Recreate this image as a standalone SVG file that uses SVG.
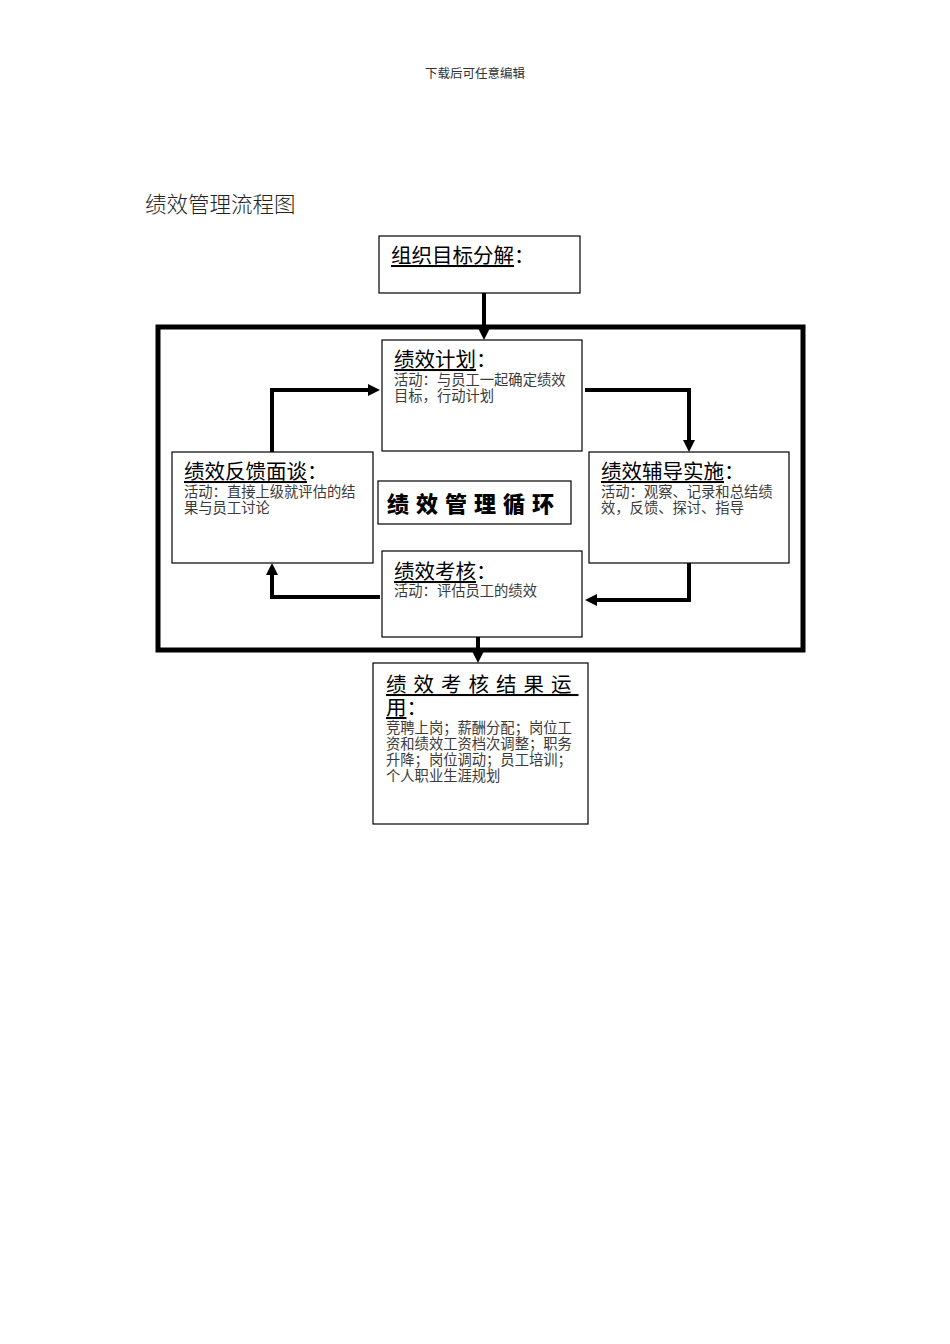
<svg xmlns="http://www.w3.org/2000/svg" width="950" height="1344" viewBox="0 0 950 1344">
<style>
.box{fill:#fff;stroke:#000;stroke-width:1.2}
.t{font-family:"Noto Sans CJK SC",sans-serif;font-size:20.5px;fill:#000}
.d{font-family:"Noto Sans CJK SC",sans-serif;font-size:14.3px;fill:#3a3a3a}
.u{text-decoration:underline}
.c{fill:none;stroke:#000;stroke-width:4}
</style>
<defs>
<marker id="ah" markerUnits="userSpaceOnUse" markerWidth="13" markerHeight="13" refX="1" refY="6" orient="auto">
<path d="M0,0 L12,6 L0,12 z" fill="#000"/>
</marker>
</defs>
<rect width="950" height="1344" fill="#fff"/>
<text x="475" y="78" text-anchor="middle" font-family="Noto Sans CJK SC,sans-serif" font-size="12.5" fill="#333">下载后可任意编辑</text>
<text x="145" y="212" font-family="Noto Sans CJK SC,sans-serif" font-size="21.5" font-weight="300" fill="#222">绩效管理流程图</text>

<g id="frame"><rect x="158" y="327" width="645" height="323" fill="none" stroke="#000" stroke-width="5"/></g>

<g id="connectors">
<path class="c" d="M484,293 L484,329" marker-end="url(#ah)"/>
<path class="c" d="M585,390 L689,390 L689,441" marker-end="url(#ah)"/>
<path class="c" d="M689,563 L689,600 L596,600" marker-end="url(#ah)"/>
<path class="c" d="M380,597 L272,597 L272,574" marker-end="url(#ah)"/>
<path class="c" d="M272,452 L272,390 L369,390" marker-end="url(#ah)"/>
<path class="c" d="M478,637 L478,652" marker-end="url(#ah)"/>
</g>

<g id="n-goal">
<rect class="box" x="379" y="236" width="201" height="57"/>
<text class="t" x="391" y="263"><tspan class="u">组织目标分解</tspan>：</text>
</g>

<g id="n-plan">
<rect class="box" x="382" y="340" width="200" height="111"/>
<text class="t" x="394" y="367"><tspan class="u">绩效计划</tspan>：</text>
<text class="d" x="394" y="385">活动：与员工一起确定绩效</text>
<text class="d" x="394" y="401">目标，行动计划</text>
</g>

<g id="n-feedback">
<rect class="box" x="172" y="452" width="201" height="111"/>
<text class="t" x="184" y="479"><tspan class="u">绩效反馈面谈</tspan>：</text>
<text class="d" x="184" y="497">活动：直接上级就评估的结</text>
<text class="d" x="184" y="513">果与员工讨论</text>
</g>

<g id="n-coach">
<rect class="box" x="589" y="452" width="200" height="111"/>
<text class="t" x="601" y="479"><tspan class="u">绩效辅导实施</tspan>：</text>
<text class="d" x="601" y="497">活动：观察、记录和总结绩</text>
<text class="d" x="601" y="513">效，反馈、探讨、指导</text>
</g>

<g id="n-cycle">
<rect class="box" x="378" y="481" width="193" height="43"/>
<text x="474" y="512" text-anchor="middle" font-family="Noto Sans CJK SC,sans-serif" font-size="22" font-weight="900" letter-spacing="7" fill="#000">绩效管理循环</text>
</g>

<g id="n-assess">
<rect class="box" x="382" y="551" width="200" height="86"/>
<text class="t" x="394" y="579"><tspan class="u">绩效考核</tspan>：</text>
<text class="d" x="394" y="596">活动：评估员工的绩效</text>
</g>

<g id="n-result">
<rect class="box" x="373" y="663" width="215" height="161"/>
<text class="t" x="386" y="692" letter-spacing="7"><tspan class="u">绩效考核结果运</tspan></text>
<text class="t" x="386" y="715"><tspan class="u">用</tspan>：</text>
<text class="d" x="386" y="733">竞聘上岗；薪酬分配；岗位工</text>
<text class="d" x="386" y="749">资和绩效工资档次调整；职务</text>
<text class="d" x="386" y="765">升降；岗位调动；员工培训；</text>
<text class="d" x="386" y="781">个人职业生涯规划</text>
</g>
</svg>
